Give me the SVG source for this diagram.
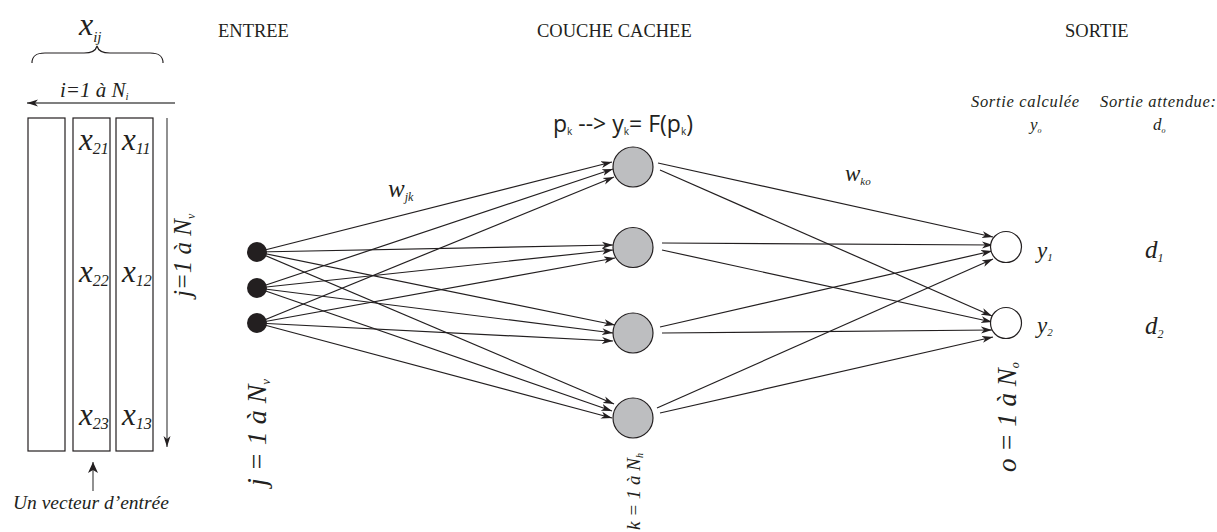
<svg xmlns="http://www.w3.org/2000/svg" width="1217" height="532" viewBox="0 0 1217 532">
<style>
.t{font-family:"Liberation Serif","Times New Roman",serif;fill:#231f20}
.i{font-family:"Liberation Serif","Times New Roman",serif;font-style:italic;fill:#231f20}
.s{font-family:"Open Sans","Liberation Sans",sans-serif;fill:#231f20}
.c{stroke:#231f20;stroke-width:1.2;fill:none}
.g{stroke:#555;stroke-width:1.3;fill:none}
.in{fill:#231f20}
.hid{fill:#bdbec0;stroke:#231f20;stroke-width:1.2}
.out{fill:#fff;stroke:#231f20;stroke-width:1.2}
.box{fill:#fff;stroke:#231f20;stroke-width:1.2}
</style>
<defs>
<marker id="ah" markerUnits="userSpaceOnUse" markerWidth="12" markerHeight="8" refX="11" refY="4" orient="auto"><path d="M0,0.5 L11,4 L0,7.5 L3,4 z" fill="#231f20"/></marker>
<marker id="ahg" markerUnits="userSpaceOnUse" markerWidth="12" markerHeight="10" refX="11" refY="5" orient="auto"><path d="M0,0 L11,5 L0,10 L3,5 z" fill="#231f20"/></marker>
</defs>
<rect width="1217" height="532" fill="#fff"/>

<g id="titles">
<text class="t" x="218" y="37" font-size="18.5">ENTREE</text>
<text class="t" x="537" y="37" font-size="18.5">COUCHE CACHEE</text>
<text class="t" x="1065" y="37" font-size="18.5">SORTIE</text>
</g>

<g id="input-vector">
<text class="i" x="79" y="35" font-size="32">x<tspan font-size="15" dy="7">ij</tspan></text>
<path class="c" stroke-width="3" d="M32,63 C32,55 37,53 45,53 L84,53 C92,53 96,50 97,46 C98,50 102,53 110,53 L150,53 C158,53 163,55 163,63"/>
<text class="i" x="60" y="97" font-size="21">i=1 à N<tspan font-size="11" dy="3">i</tspan></text>
<line class="g" x1="175" y1="103" x2="27" y2="103" marker-end="url(#ah)"/>
<rect class="box" x="28" y="118" width="37" height="333"/>
<rect class="box" x="73" y="118" width="37" height="333"/>
<rect class="box" x="116" y="118" width="37" height="333"/>
<text class="i" x="79" y="150" font-size="31">x<tspan font-size="16" dy="4">21</tspan></text>
<text class="i" x="122" y="150" font-size="31">x<tspan font-size="16" dy="4">11</tspan></text>
<text class="i" x="79" y="282" font-size="31">x<tspan font-size="16" dy="4">22</tspan></text>
<text class="i" x="122" y="282" font-size="31">x<tspan font-size="16" dy="4">12</tspan></text>
<text class="i" x="79" y="425" font-size="31">x<tspan font-size="16" dy="4">23</tspan></text>
<text class="i" x="122" y="425" font-size="31">x<tspan font-size="16" dy="4">13</tspan></text>
<line class="g" x1="167" y1="118" x2="167" y2="447" marker-end="url(#ah)"/>
<text class="i" transform="translate(191,297) rotate(-90)" font-size="25">j=1 à N<tspan font-size="12" dy="4">v</tspan></text>
<line class="g" x1="93" y1="491" x2="93" y2="462" marker-end="url(#ahg)"/>
<text class="i" x="13" y="509" font-size="19.5">Un vecteur d’entrée</text>
</g>

<g id="connectors">
<line class="c" x1="257" y1="252" x2="612" y2="162" marker-end="url(#ah)"/>
<line class="c" x1="257" y1="288" x2="613" y2="169" marker-end="url(#ah)"/>
<line class="c" x1="257" y1="323" x2="614" y2="177" marker-end="url(#ah)"/>
<line class="c" x1="257" y1="252" x2="613" y2="245" marker-end="url(#ah)"/>
<line class="c" x1="257" y1="288" x2="613" y2="250" marker-end="url(#ah)"/>
<line class="c" x1="257" y1="323" x2="615" y2="258" marker-end="url(#ah)"/>
<line class="c" x1="257" y1="252" x2="615" y2="325" marker-end="url(#ah)"/>
<line class="c" x1="257" y1="288" x2="613" y2="333" marker-end="url(#ah)"/>
<line class="c" x1="257" y1="323" x2="613" y2="341" marker-end="url(#ah)"/>
<line class="c" x1="257" y1="252" x2="614" y2="404" marker-end="url(#ah)"/>
<line class="c" x1="257" y1="288" x2="612" y2="411" marker-end="url(#ah)"/>
<line class="c" x1="257" y1="323" x2="612" y2="418" marker-end="url(#ah)"/>
<line class="c" x1="658" y1="163" x2="993" y2="237" marker-end="url(#ah)"/>
<line class="c" x1="660" y1="170" x2="992" y2="316" marker-end="url(#ah)"/>
<line class="c" x1="662" y1="243" x2="993" y2="245" marker-end="url(#ah)"/>
<line class="c" x1="662" y1="250" x2="992" y2="322" marker-end="url(#ah)"/>
<line class="c" x1="660" y1="327" x2="992" y2="251" marker-end="url(#ah)"/>
<line class="c" x1="662" y1="333" x2="992" y2="330" marker-end="url(#ah)"/>
<line class="c" x1="657" y1="408" x2="993" y2="259" marker-end="url(#ah)"/>
<line class="c" x1="660" y1="413" x2="993" y2="337" marker-end="url(#ah)"/>
</g>

<g id="input-layer">
<circle class="in" cx="257" cy="252" r="10"/>
<circle class="in" cx="257" cy="288" r="10"/>
<circle class="in" cx="257" cy="323" r="10"/>
<text class="i" transform="translate(266,486) rotate(-90)" font-size="28">j = 1 à N<tspan font-size="13" dy="4">v</tspan></text>
<text class="i" x="388" y="197" font-size="25">w<tspan font-size="12" dy="4">jk</tspan></text>
</g>

<g id="hidden-layer">
<text class="s" x="553" y="132" font-size="23">p<tspan font-size="10" dy="3">k</tspan><tspan dy="-3"> --&gt; y</tspan><tspan font-size="10" dy="3">k</tspan><tspan dy="-3">= F(p</tspan><tspan font-size="10" dy="3">k</tspan><tspan dy="-3">)</tspan></text>
<circle class="hid" cx="633" cy="167" r="20"/>
<circle class="hid" cx="633" cy="247.5" r="20"/>
<circle class="hid" cx="633" cy="333" r="20"/>
<circle class="hid" cx="633" cy="418" r="20"/>
<text class="i" transform="translate(640,530) rotate(-90)" font-size="19">k = 1 à N<tspan font-size="10" dy="3">h</tspan></text>
<text class="i" x="845" y="181" font-size="23">w<tspan font-size="11" dy="4">ko</tspan></text>
</g>

<g id="output-layer">
<text class="i" x="971" y="107" font-size="16.5" textLength="108">Sortie calculée</text>
<text class="i" x="1100" y="107" font-size="16.5" textLength="116">Sortie attendue:</text>
<text class="i" x="1030" y="130" font-size="17">y<tspan font-size="8" dy="3">o</tspan></text>
<text class="i" x="1153" y="130" font-size="17">d<tspan font-size="8" dy="3">o</tspan></text>
<circle class="out" cx="1006" cy="247" r="15.5"/>
<circle class="out" cx="1006" cy="323" r="15.5"/>
<text class="i" x="1037" y="258" font-size="23">y<tspan font-size="11" dy="3">1</tspan></text>
<text class="i" x="1145" y="258" font-size="25">d<tspan font-size="12" dy="4">1</tspan></text>
<text class="i" x="1037" y="333" font-size="23">y<tspan font-size="11" dy="3">2</tspan></text>
<text class="i" x="1145" y="334" font-size="25">d<tspan font-size="12" dy="4">2</tspan></text>
<text class="i" transform="translate(1016,472) rotate(-90)" font-size="27">o = 1 à N<tspan font-size="12" dy="3">o</tspan></text>
</g>
</svg>
